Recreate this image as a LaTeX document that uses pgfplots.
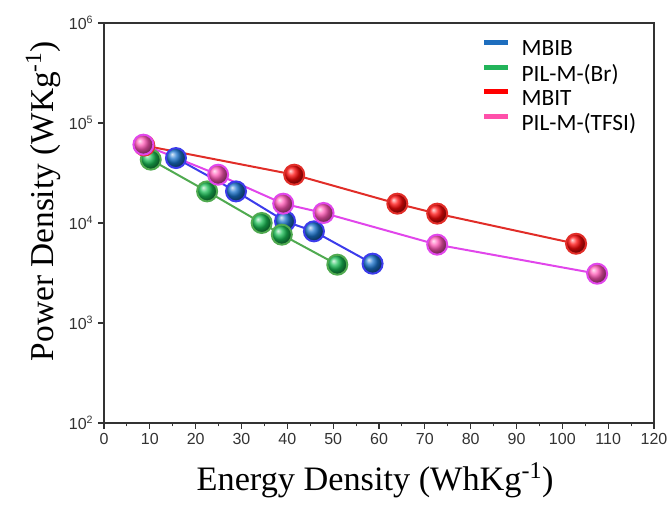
\documentclass[border=0pt]{standalone}
\usepackage{pgfplots}
\pgfplotsset{compat=1.18}
\usepackage{fontspec}
\setmainfont{Liberation Sans}
\newfontfamily\serifx{Liberation Serif}
\newfontfamily\calib{Carlito}
\definecolor{blueB}{RGB}{25,115,205}
\definecolor{blueL}{RGB}{60,60,235}
\definecolor{greenB}{RGB}{25,190,85}
\definecolor{greenL}{RGB}{80,170,80}
\definecolor{redB}{RGB}{255,10,10}
\definecolor{redL}{RGB}{225,45,40}
\definecolor{pinkB}{RGB}{255,85,180}
\definecolor{pinkL}{RGB}{225,70,235}
\definecolor{blueLeg}{RGB}{30,110,190}
\definecolor{greenLeg}{RGB}{34,180,90}
\definecolor{redLeg}{RGB}{255,0,0}
\definecolor{pinkLeg}{RGB}{255,80,170}
\begin{document}
\begin{tikzpicture}
\useasboundingbox (-78pt,-62.25pt) rectangle (424.5pt,317.25pt);
\begin{axis}[
  scale only axis, width=412.5pt, height=300pt,
  at={(0,0)}, anchor=south west,
  xmin=0, xmax=120, ymin=100, ymax=1e6, ymode=log, log basis y=10,
  xtick={0,10,...,120}, minor x tick num=1,
  ytick={1e2,1e3,1e4,1e5,1e6},
  yticklabels={10\textsuperscript{2},10\textsuperscript{3},10\textsuperscript{4},10\textsuperscript{5},10\textsuperscript{6}},
  xtick pos=left, ytick pos=left, tick align=outside,
  major tick length=4.5pt, minor tick length=2.5pt,
  axis line style={line width=0.9pt, draw=black!80},
  every tick/.style={black!80, line width=0.8pt},
  tick label style={font=\fontsize{12}{14}\selectfont, text=black!80},
  /pgf/number format/assume math mode=true,
  xlabel={Energy Density (WhKg\textsuperscript{-1})},
  ylabel={Power Density (WKg\textsuperscript{-1})},
  label style={font=\serifx\fontsize{25}{30}\selectfont},
  xlabel style={at={(axis description cs:0.493,-0.1425)}, anchor=center, font=\serifx\fontsize{25.7}{30}\selectfont},
  ylabel style={at={(axis description cs:-0.111,0.555)}, anchor=center},
  legend style={at={(axis description cs:0.686,0.963)}, anchor=north west,
    draw=none, fill=none, font=\calib\fontsize{17.5}{20}\selectfont,
    row sep=1pt, inner sep=0pt},
  legend cell align=left,
  legend image code/.code={\draw[#1, line width=3.75pt] (0pt,5pt) -- (18pt,5pt); \path (26pt,5pt);},
]
\addlegendimage{blueLeg}\addlegendentry{MBIB}
\addlegendimage{greenLeg}\addlegendentry{PIL-M-(Br)}
\addlegendimage{redLeg}\addlegendentry{MBIT}
\addlegendimage{pinkLeg}\addlegendentry{PIL-M-(TFSI)}

\addplot[blueL, line width=1.5pt, mark=ball, mark size=7.5pt, mark options={ball color=blueB}, forget plot]
  coordinates {(15.7,44600) (28.8,20700) (39.5,10400) (45.8,8250) (58.6,3920)};
\addplot[greenL, line width=1.5pt, mark=ball, mark size=7.5pt, mark options={ball color=greenB}, forget plot]
  coordinates {(10.2,43000) (22.5,20700) (34.4,10000) (38.8,7640) (50.9,3830)};
\addplot[redL, line width=1.5pt, mark=ball, mark size=7.5pt, mark options={ball color=redB}, forget plot]
  coordinates {(8.8,59500) (41.5,30400) (64.0,15600) (72.7,12400) (103.0,6200)};
\addplot[pinkL, line width=1.5pt, mark=ball, mark size=7.5pt, mark options={ball color=pinkB}, forget plot]
  coordinates {(8.6,60700) (24.9,30400) (39.1,15600) (47.9,12600) (72.7,6070) (107.6,3110)};
\end{axis}
\end{tikzpicture}
\end{document}
